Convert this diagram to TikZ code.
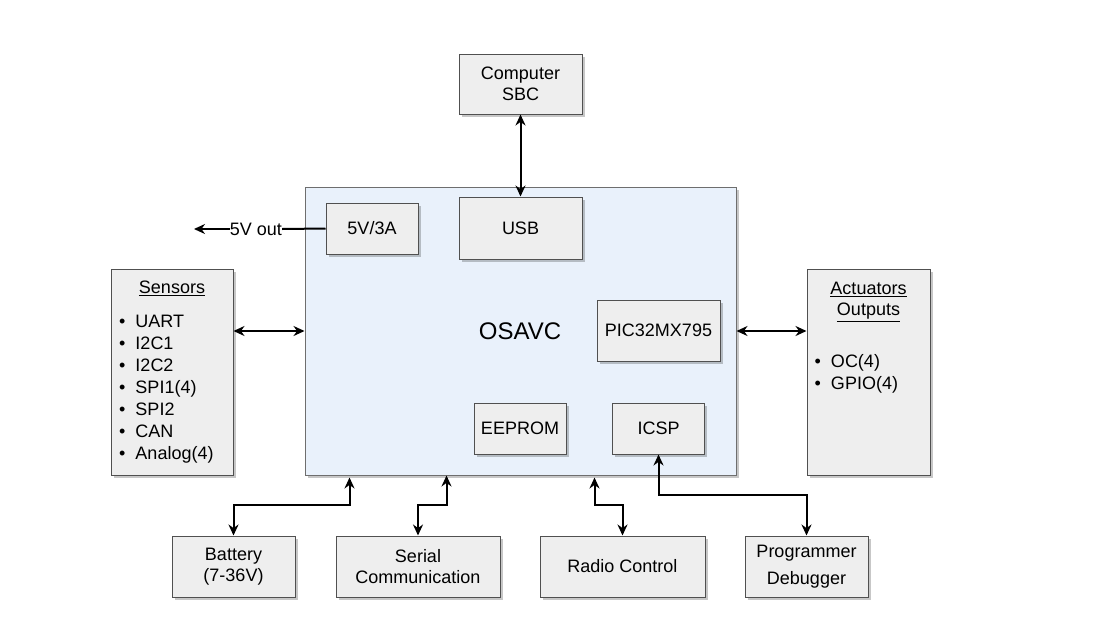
\documentclass[tikz,border=0pt]{standalone}
\usepackage{fontspec}
\setmainfont{Liberation Sans}
\usetikzlibrary{arrows.meta,shadows,calc}
\definecolor{boxfill}{RGB}{238,238,238}
\definecolor{boxline}{RGB}{80,80,80}
\definecolor{mcufill}{RGB}{233,241,251}
\definecolor{mculine}{RGB}{110,110,110}
\tikzset{
	blk/.style = {
		draw=boxline, fill=boxfill, line width=1pt, inner sep=0pt,
		align=center, font=\fontsize{18}{21}\selectfont,
		drop shadow={shadow xshift=2.5pt, shadow yshift=-2.5pt, fill=black, opacity=0.22}
	},
	mcu/.style = {blk, draw=mculine, fill=mcufill},
	lbl/.style = {inner sep=0pt, font=\fontsize{18}{21}\selectfont},
	item/.style = {lbl, anchor=base west},
	dbl/.style = {{Stealth[length=11pt,width=10pt]}-{Stealth[length=11pt,width=10pt]}, line width=2pt},
	sgl/.style = {-{Stealth[length=11pt,width=10pt]}, line width=2pt},
	wire/.style = {line width=2pt}
}
\begin{document}
\begin{tikzpicture}[x=1pt, y=-1pt]
	\useasboundingbox (0, 0) rectangle (1109, 621);
	\node [mcu, minimum width=431pt, minimum height=288pt] (osavc) at (520.5, 331) {};
	\node [lbl, font=\fontsize{24}{28}\selectfont] (title) at (520, 331) {OSAVC};
	\node [blk, minimum width=123pt, minimum height=60pt] (comp) at (520.5, 84) {Computer\\SBC};
	\node [blk, minimum width=92pt, minimum height=51pt] (psu) at (372, 228.5) {5V/3A};
	\node [blk, minimum width=123pt, minimum height=62pt] (usb) at (520.5, 228) {USB};
	\node [blk, minimum width=123pt, minimum height=61pt] (pic) at (658.5, 330.5) {PIC32MX795};
	\node [blk, minimum width=92pt, minimum height=51pt] (eeprom) at (520, 428.5) {EEPROM};
	\node [blk, minimum width=92pt, minimum height=51pt] (icsp) at (658.5, 428.5) {ICSP};
	\node [blk, minimum width=122pt, minimum height=206pt] (sensors) at (172, 372) {};
	\node [blk, minimum width=123pt, minimum height=206pt] (act) at (868.5, 372) {};
	\node [blk, minimum width=123pt, minimum height=61pt] (batt) at (233.5, 566.5) {Battery\\(7-36V)};
	\node [blk, minimum width=164pt, minimum height=61pt] (serial) at (418, 566.5) {Serial\\Communication};
	\node [blk, minimum width=165pt, minimum height=61pt] (radio) at (622.5, 566.5) {Radio Control};
	\node [blk, minimum width=123pt, minimum height=61pt] (prog) at (806.5, 566.5) {Programmer\\[6pt]Debugger};
	\node [lbl] (stitle) at (172, 288) {\underline{Sensors}};
	\foreach [count=\i] \s in {UART,I2C1,I2C2,SPI1(4),SPI2,CAN,Analog(4)}
	{
		\node [item] (s\i) at (119, 305.5+22*\i) {\textbullet\hspace{10pt}\s};
	}
	\node [lbl, align=center] (atitle) at (868.5, 302) {\underline{Actuators}\\\underline{Outputs}};
	\node [item] (a1) at (814.5, 367.5) {\textbullet\hspace{10pt}OC(4)};
	\node [item] (a2) at (814.5, 389.5) {\textbullet\hspace{10pt}GPIO(4)};
	\node [lbl] (vout) at (256, 229) {5V out};
	\coordinate (vend) at (194, 229);
	\draw [wire] (psu.west) -- (vout.east);
	\draw [sgl] (vout.west) -- (vend);
	\draw [dbl] (comp.south) -- (usb.north);
	\draw [dbl] (osavc.west -| sensors.east) -- (osavc.west);
	\draw [dbl] (osavc.east) -- (osavc.east -| act.west);
	\draw [dbl] (batt.north) -- ++(0, -31) -| ([xshift=45pt, yshift=-2pt]osavc.south west);
	\draw [dbl] (serial.north) -- ++(0, -31) -| ([xshift=142pt]osavc.south west);
	\draw [dbl] (radio.north) -- ++(0, -31) -| ([xshift=290pt, yshift=-2pt]osavc.south west);
	\draw [dbl] (icsp.south) -- ++(0, 40) -| (prog.north);
\end{tikzpicture}
\end{document}
